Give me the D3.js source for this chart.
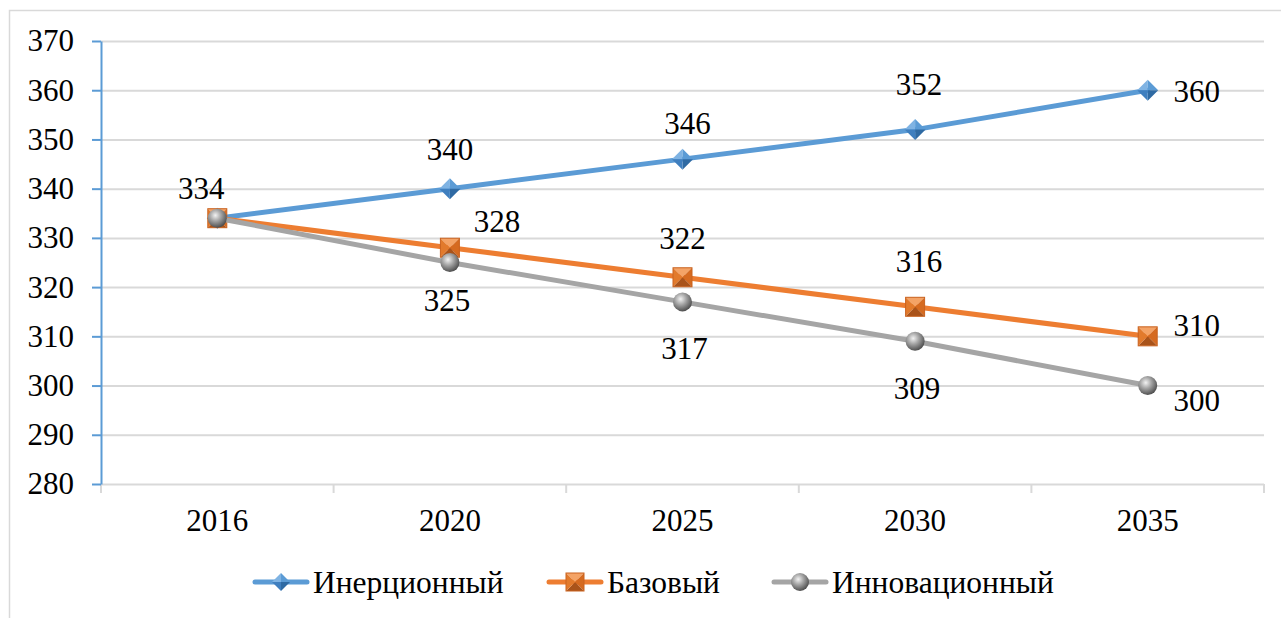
<!DOCTYPE html>
<html>
<head>
    <meta charset="UTF-8">
    <title>chart</title>
    <script src="https://d3js.org/d3.v7.min.js"></script>
    <style>
        body {
            margin: 0;
            padding: 0;
            background: #fff;
            overflow: hidden;
        }
        .grid line { stroke: #d9d9d9; stroke-width: 2; }
        .grid path { display: none; }
    </style>
</head>
<body>
<div id="chart"></div>
<script>
    // data
    const years = ["2016", "2020", "2025", "2030", "2035"];
    const inertial = [334, 340, 346, 352, 360];
    const base = [334, 328, 322, 316, 310];
    const innov = [334, 325, 317, 309, 300];
    const yTicks = [280, 290, 300, 310, 320, 330, 340, 350, 360, 370];
    const seriesNames = ["Инерционный", "Базовый", "Инновационный"];
    // where each data label sits relative to its point
    const inertialLabels = ["tl", "t", "t2", "t3", "r"];
    const baseLabels = ["none", "tr", "t", "t3", "r2"];
    const innovLabels = ["none", "b", "b2", "b2", "br"];

    const W = 1281, H = 618;
    const plot = { left: 101, right: 1264, top: 41, bottom: 484 };
    const FONT = "Liberation Serif";

    const svg = d3.select("#chart").append("svg")
        .attr("width", W).attr("height", H);

    // outer frame of the chart area
    svg.append("rect")
        .attr("x", 9.5).attr("y", 10.5)
        .attr("width", 1300).attr("height", 700)
        .attr("fill", "none").attr("stroke", "#d9d9d9").attr("stroke-width", 1.5);

    const defs = svg.append("defs");
    const sphere = defs.append("radialGradient").attr("id", "sphere")
        .attr("cx", "40%").attr("cy", "35%").attr("r", "65%");
    sphere.append("stop").attr("offset", "0%").attr("stop-color", "#f2f2f2");
    sphere.append("stop").attr("offset", "45%").attr("stop-color", "#a6a6a6");
    sphere.append("stop").attr("offset", "100%").attr("stop-color", "#505050");

    const x = d3.scaleBand().domain(years).range([plot.left, plot.right]);
    const y = d3.scaleLinear().domain([280, 370]).range([plot.bottom, plot.top]);
    const cx = d => x(d) + x.bandwidth() / 2;

    // horizontal gridlines
    svg.append("g").attr("class", "grid")
        .attr("transform", `translate(${plot.left},0)`)
        .call(d3.axisRight(y).tickValues(yTicks).tickSize(plot.right - plot.left).tickFormat(""));

    // x axis ticks at band edges
    const edges = years.map(d => x(d)).concat([plot.right]);
    svg.append("g").selectAll("line").data(edges).join("line")
        .attr("x1", d => d).attr("x2", d => d)
        .attr("y1", plot.bottom).attr("y2", plot.bottom + 9)
        .attr("stroke", "#d9d9d9").attr("stroke-width", 2);

    const xAxis = svg.append("g")
        .attr("transform", `translate(0,${plot.bottom})`)
        .call(d3.axisBottom(x).tickSize(0).tickPadding(25));
    xAxis.select(".domain").remove();

    // y axis (blue)
    const yAxis = svg.append("g")
        .attr("transform", `translate(${plot.left},0)`)
        .call(d3.axisLeft(y).tickValues(yTicks).tickSize(9).tickSizeOuter(0).tickPadding(18));
    yAxis.select(".domain").attr("stroke", "#5b9bd5").attr("stroke-width", 2);
    yAxis.selectAll(".tick line").attr("stroke", "#5b9bd5").attr("stroke-width", 2);

    // marker drawers
    function diamond(g, s) {
        const h = s / 2;
        const faces = [
            [[0, 0], [-h, 0], [0, -h], "#7fb3e3"],
            [[0, 0], [0, -h], [h, 0], "#5b9bd5"],
            [[0, 0], [h, 0], [0, h], "#2f6aa3"],
            [[0, 0], [0, h], [-h, 0], "#3f7fbf"]
        ];
        faces.forEach(f => g.append("path")
            .attr("d", "M" + f.slice(0, 3).map(p => p.join(",")).join("L") + "Z")
            .attr("fill", f[3]));
    }
    function square(g, s) {
        const h = s / 2;
        const faces = [
            [[0, 0], [-h, -h], [h, -h], "#f4a366"],
            [[0, 0], [h, -h], [h, h], "#d56a20"],
            [[0, 0], [h, h], [-h, h], "#a9531a"],
            [[0, 0], [-h, h], [-h, -h], "#e27a2c"]
        ];
        faces.forEach(f => g.append("path")
            .attr("d", "M" + f.slice(0, 3).map(p => p.join(",")).join("L") + "Z")
            .attr("fill", f[3]));
        g.append("rect").attr("x", -h).attr("y", -h).attr("width", s).attr("height", s)
            .attr("fill", "none").attr("stroke", "#c9621f").attr("stroke-width", 1);
    }
    function ball(g, s) {
        g.append("circle").attr("r", s / 2).attr("fill", "url(#sphere)");
    }

    const series = [
        { name: seriesNames[0], values: inertial, labels: inertialLabels, color: "#5b9bd5", marker: diamond, size: 21 },
        { name: seriesNames[1], values: base, labels: baseLabels, color: "#ed7d31", marker: square, size: 19 },
        { name: seriesNames[2], values: innov, labels: innovLabels, color: "#a5a5a5", marker: ball, size: 19 }
    ];

    const line = d3.line().x(d => cx(d.year)).y(d => y(d.value));
    const offsets = {
        t: [0, -39], t2: [5, -36], t3: [4, -45], tl: [-16, -30], tr: [47, -26],
        b: [-3, 38], b2: [2, 47], r: [49, 1], r2: [49, -11], br: [49, 15]
    };

    series.forEach(s => {
        const pts = years.map((yr, i) => ({ year: yr, value: s.values[i], pos: s.labels[i] }));
        const g = svg.append("g");
        g.append("path").datum(pts).attr("d", line)
            .attr("fill", "none").attr("stroke", s.color)
            .attr("stroke-width", 5).attr("stroke-linecap", "round");
        pts.forEach(p => {
            const m = g.append("g").attr("transform", `translate(${cx(p.year)},${y(p.value)})`);
            s.marker(m, s.size);
        });
        s.pts = pts;
    });

    // data labels on top
    series.forEach(s => {
        svg.append("g").selectAll("text").data(s.pts.filter(p => p.pos !== "none")).join("text")
            .attr("x", p => cx(p.year) + offsets[p.pos][0])
            .attr("y", p => y(p.value) + offsets[p.pos][1])
            .attr("text-anchor", "middle")
            .attr("dominant-baseline", "central")
            .text(p => p.value);
    });

    // legend, items placed as in the original
    const legendX = [253, 547, 772];
    const legend = svg.append("g").attr("transform", "translate(0,582)");
    series.forEach((s, i) => {
        const it = legend.append("g").attr("transform", `translate(${legendX[i]},0)`);
        it.append("line").attr("x1", 2).attr("x2", 54).attr("y1", 0).attr("y2", 0)
            .attr("stroke", s.color).attr("stroke-width", 5).attr("stroke-linecap", "round");
        const m = it.append("g").attr("transform", "translate(28,0)");
        s.marker(m, 18);
        it.append("text").attr("class", "leg").attr("x", 60).attr("y", 0)
            .attr("dominant-baseline", "central")
            .text(s.name);
    });

    // one font for every text
    svg.selectAll("text")
        .attr("font-family", FONT)
        .attr("font-size", 31)
        .attr("fill", "#000");
    svg.selectAll("text.leg").attr("font-size", 31.5);
</script>
</body>
</html>
